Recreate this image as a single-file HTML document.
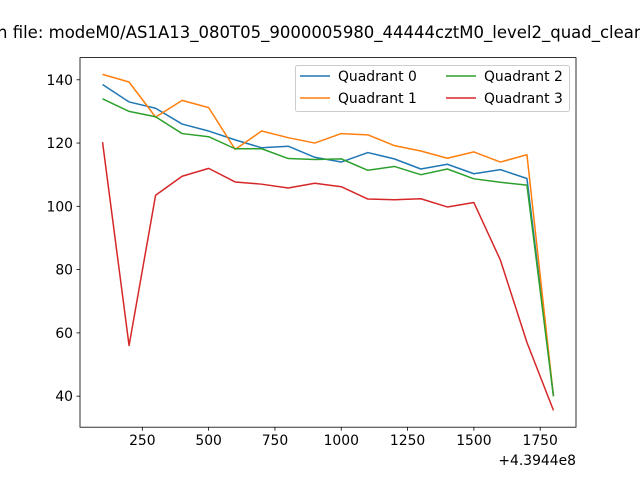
<!DOCTYPE html>
<html><head><meta charset="utf-8"><style>
body{margin:0;background:#fff}
svg{display:block;font-family:"DejaVu Sans","Liberation Sans",sans-serif}
</style></head><body>
<svg id="chart" width="640" height="480" xmlns="http://www.w3.org/2000/svg">
<text x="-3" y="38" font-size="16.5" fill="#000">n file: modeM0/AS1A13_080T05_9000005980_44444cztM0_level2_quad_clean.evt</text>
<g id="plot"></g>
</svg>
<script>
const xValues=[100,200,300,400,500,600,700,800,900,1000,1100,1200,1300,1400,1500,1600,1700,1800];
const q0=[138.5,133,131,126,123.8,121,118.5,119,115.5,114,117,115,111.8,113.3,110.3,111.6,108.8,40];
const q1=[141.7,139.3,128.2,133.5,131.2,118,123.8,121.7,120,123,122.6,119.2,117.5,115.2,117.2,114,116.3,40];
const q2=[134,130,128.3,123,122,118.2,118.2,115.1,114.8,115,111.4,112.6,110,111.8,108.7,107.6,106.7,40];
const q3=[120.3,56,103.5,109.5,112,107.7,107,105.8,107.3,106.2,102.3,102.1,102.4,99.8,101.2,83,57,35.5];
const seriesNames=["Quadrant 0","Quadrant 1","Quadrant 2","Quadrant 3"];
const xTicks=[250,500,750,1000,1250,1500,1750];
const yTicks=[40,60,80,100,120,140];
const colors=["#1f77b4","#ff7f0e","#2ca02c","#d62728"];
const L=80,R=576,T=57.6,B=427.2;
const all=[].concat(q0,q1,q2,q3);
const ymn=Math.min(...all),ymx=Math.max(...all),yp=(ymx-ymn)*0.05;
const xmn=Math.min(...xValues),xmx=Math.max(...xValues),xp=(xmx-xmn)*0.05;
const X=v=>L+(v-(xmn-xp))/((xmx+xp)-(xmn-xp))*(R-L);
const Y=v=>B-(v-(ymn-yp))/((ymx+yp)-(ymn-yp))*(B-T);
const NS="http://www.w3.org/2000/svg";
const g=document.getElementById('plot');
function mk(t,a){const e=document.createElementNS(NS,t);for(const k in a)e.setAttribute(k,a[k]);g.appendChild(e);return e;}
[q0,q1,q2,q3].forEach((s,i)=>{
 const p=mk('polyline',{points:s.map((v,j)=>X(xValues[j])+','+Y(v)).join(' '),fill:'none',stroke:colors[i],'stroke-width':1.5,'stroke-linejoin':'round'});
 
 
});
const fr=mk('rect',{x:L,y:T,width:R-L,height:B-T,fill:'none',stroke:'#000','stroke-width':0.8});


xTicks.forEach(t=>{
 mk('line',{x1:X(t),x2:X(t),y1:B,y2:B+3.5,stroke:'#000','stroke-width':0.8});
 const tx=mk('text',{x:X(t),y:B+18,'font-size':13.9,'text-anchor':'middle'});tx.textContent=t;
 
 
});
const off=mk('text',{x:R,y:B+38,'font-size':13.9,'text-anchor':'end'});off.textContent='+4.3944e8';


yTicks.forEach(t=>{
 mk('line',{x1:L-3.5,x2:L,y1:Y(t),y2:Y(t),stroke:'#000','stroke-width':0.8});
 const tx=mk('text',{x:L-7,y:Y(t)+5,'font-size':13.9,'text-anchor':'end'});tx.textContent=t;
 
 
});
const lg=mk('rect',{x:295.5,y:65.5,width:274,height:46,rx:2,fill:'#fff','fill-opacity':0.8,stroke:'#ccc','stroke-width':1});


seriesNames.forEach((n,i)=>{
 const cx=i<2?300:446, cy=i%2?98:76;
 mk('line',{x1:cx,x2:cx+30,y1:cy,y2:cy,stroke:colors[i],'stroke-width':1.5});
 const tx=mk('text',{x:cx+38,y:cy+5,'font-size':13.9});tx.textContent=n;
 
 
});
</script>
</body></html>
